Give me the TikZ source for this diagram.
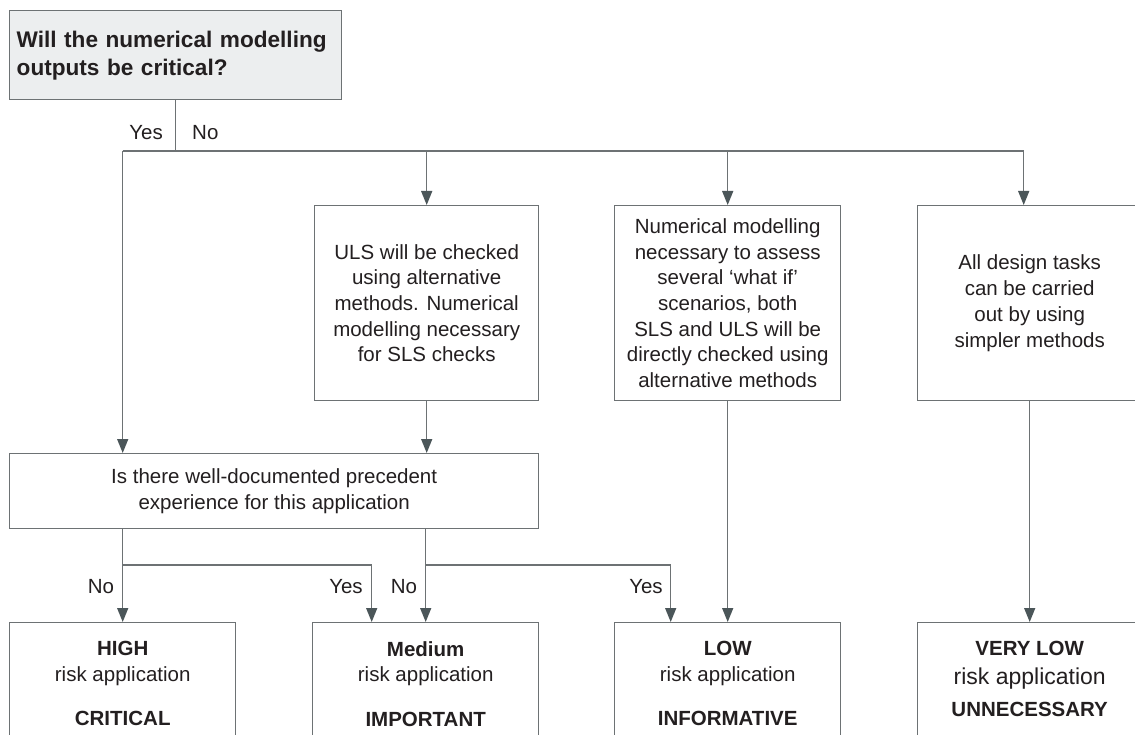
\documentclass[tikz,border=0pt]{standalone}
\usepackage{fontspec}
\setmainfont{Liberation Sans}
\usetikzlibrary{arrows.meta}
\definecolor{ink}{HTML}{231F20}
\definecolor{rule}{HTML}{6D7274}
\definecolor{tip}{HTML}{4B5659}
\definecolor{qfill}{HTML}{ECEEEF}
\tikzset{
  box/.style={draw=rule, line width=1.4pt, rectangle, inner sep=0pt, text=ink},
  body/.style={font=\fontsize{20.5}{25.7}\selectfont, align=center, text=ink},
  lbl/.style={font=\fontsize{20.5}{24}\selectfont, text=ink, inner sep=0pt},
  wire/.style={draw=rule, line width=1.4pt},
  arr/.style={wire, -{Triangle[width=11pt,length=14pt,color=tip]}},
}
\begin{document}
\begin{tikzpicture}[x=1pt, y=-1pt]
\useasboundingbox (0,0) rectangle (1135,735);
\clip (0,0) rectangle (1135,735);
\fill[white] (0,0) rectangle (1135,735);

% question box
\node[box, fill=qfill, anchor=north west, minimum width=332, minimum height=89,
      text width=318, inner xsep=7, align=left,
      font=\fontsize{22.6}{28}\selectfont\bfseries] (q) at (9,10)
  {Will the numerical modelling\\outputs be critical?};

% second row of boxes
\node[box, body, anchor=north west, minimum width=224, minimum height=195] (uls) at (314,205)
  {ULS will be checked\\using alternative\\methods. Numerical\\modelling necessary\\for SLS checks};
\node[box, body, anchor=north west, minimum width=226, minimum height=195] (what) at (614,205)
  {Numerical modelling\\necessary to assess\\several ‘what if’\\scenarios, both\\SLS and ULS will be\\directly checked using\\alternative methods};
\node[box, body, anchor=north west, minimum width=224, minimum height=195] (simple) at (917,205)
  {All design tasks\\can be carried\\out by using\\simpler methods};

% precedent question
\node[box, body, anchor=north west, minimum width=529, minimum height=75] (prec) at (9,453)
  {Is there well-documented precedent\\experience for this application};

% outcome boxes (run past the lower edge)
\node[box, anchor=north west, minimum width=226, minimum height=160] (high) at (9,622) {};
\node[box, anchor=north west, minimum width=226, minimum height=160] (med) at (312,622) {};
\node[box, anchor=north west, minimum width=226, minimum height=160] (low) at (614,622) {};
\node[box, anchor=north west, minimum width=224, minimum height=160] (vlow) at (917,622) {};

\node[body, anchor=north, inner sep=0pt] (thigh) at ([yshift=-19pt]high.north)
  {\textbf{HIGH}\\risk application\\[19pt]\textbf{CRITICAL}};
\node[body, anchor=north, inner sep=0pt] (tmed) at ([yshift=-19pt]med.north)
  {\textbf{Medium}\\risk application\\[19pt]\textbf{IMPORTANT}};
\node[body, anchor=north, inner sep=0pt] (tlow) at ([yshift=-19pt]low.north)
  {\textbf{LOW}\\risk application\\[19pt]\textbf{INFORMATIVE}};
\node[body, anchor=north, inner sep=0pt] (tvlow) at ([yshift=-19pt]vlow.north)
  {\textbf{VERY LOW}\\[3pt]{\fontsize{23}{27}\selectfont risk application}\\[7pt]\textbf{UNNECESSARY}};

% top distribution line
\coordinate (bus) at (0,151);
\draw[wire] (q.south) -- (q.south |- bus);
\draw[wire] (high.north |- bus) -- ([xshift=-6pt]simple.north |- bus);
\draw[arr] (high.north |- bus) -- (high.north |- prec.north);
\draw[arr] (uls.north |- bus) -- (uls.north);
\draw[arr] (what.north |- bus) -- (what.north);
\draw[arr] ([xshift=-6pt]simple.north |- bus) -- ([xshift=-6pt]simple.north);
\node[lbl, anchor=east] (yes0) at (163,133) {Yes};
\node[lbl, anchor=west] (no0) at (192,133) {No};

% from the ULS box into the precedent question
\draw[arr] (uls.south) -- (uls.south |- prec.north);

% outcomes of the precedent question
\coordinate (br) at (0,565);
\draw[arr] (high.north |- prec.south) -- (high.north);
\draw[arr] (high.north |- br) -- ([xshift=-54pt]med.north |- br) -- ([xshift=-54pt]med.north);
\draw[arr] (med.north |- prec.south) -- (med.north);
\draw[arr] (med.north |- br) -- ([xshift=-57pt]low.north |- br) -- ([xshift=-57pt]low.north);
\node[lbl] (no1) at (101,587) {No};
\node[lbl] (yes1) at (346,587) {Yes};
\node[lbl] (no2) at (404,587) {No};
\node[lbl] (yes2) at (646,587) {Yes};

% direct routes
\draw[arr] (what.south) -- (low.north);
\draw[arr] (simple.south) -- (vlow.north);
\end{tikzpicture}
\end{document}
